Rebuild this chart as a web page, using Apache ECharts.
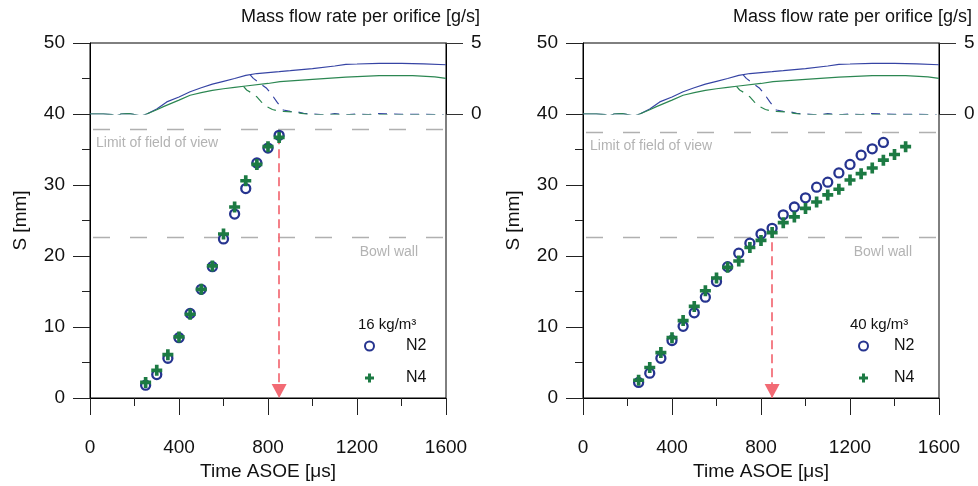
<!DOCTYPE html>
<html>
<head>
<meta charset="utf-8">
<script src="https://cdn.jsdelivr.net/npm/echarts@6/dist/echarts.min.js"></script>
<style>
  html, body { margin: 0; padding: 0; background: #fff; }
  #chart { width: 978px; height: 486px; }
</style>
</head>
<body>
<div id="chart"></div>
<script>
// Spray tip penetration S [mm] against time after start of energizing [µs]
const timeTicks = [0, 400, 800, 1200, 1600];

// 16 kg/m³ ambient density
const time16 = [250, 300, 350, 400, 450, 500, 550, 600, 650, 700, 750, 800, 850];
const n2At16 = [1.8, 3.3, 5.6, 8.5, 11.9, 15.3, 18.5, 22.4, 25.9, 29.5, 33.1, 35.2, 37.0];
const n4At16 = [2.2, 3.9, 6.1, 8.6, 11.8, 15.3, 18.6, 23.1, 26.9, 30.6, 32.9, 35.4, 36.7];

// 40 kg/m³ ambient density
const time40N2 = [250, 300, 350, 400, 450, 500, 550, 600, 650, 700, 750, 800, 850, 900, 950, 1000, 1050, 1100, 1150, 1200, 1250, 1300, 1350];
const n2At40 = [2.2, 3.5, 5.6, 8.1, 10.1, 12.0, 14.2, 16.4, 18.5, 20.4, 21.8, 23.1, 23.9, 25.8, 26.9, 28.2, 29.7, 30.4, 31.7, 32.9, 34.2, 35.1, 36.0];
const time40N4 = [250, 300, 350, 400, 450, 500, 550, 600, 650, 700, 750, 800, 850, 900, 950, 1000, 1050, 1100, 1150, 1200, 1250, 1300, 1350, 1400, 1450];
const n4At40 = [2.5, 4.3, 6.4, 8.5, 10.9, 12.9, 15.1, 16.9, 18.4, 19.3, 21.2, 22.2, 23.3, 24.7, 25.5, 26.7, 27.6, 28.6, 29.4, 30.7, 31.6, 32.4, 33.5, 34.3, 35.4];

// Reference levels [mm] and end of injection [µs]
const fieldLimit16 = 37.9;
const fieldLimit40 = 37.5;
const bowlWall = 22.6;
const injectionEnd = 850;

// Mass flow rate per orifice [g/s]: [time µs, rate]
const flowN2 = [[0,0],[60,0],[100,-0.05],[115,-0.16],[140,0],[175,0.03],[200,-0.04],[230,-0.15],[255,0],[300,0.35],[345,0.85],[400,1.2],[450,1.57],[500,1.85],[550,2.1],[600,2.3],[650,2.5],[700,2.72],[750,2.85],[800,2.92],[850,2.98],[900,3.05],[1000,3.2],[1100,3.38],[1150,3.5],[1200,3.52],[1300,3.57],[1400,3.57],[1500,3.53],[1600,3.47]];
const flowN4 = [[0,0],[60,0],[100,-0.05],[115,-0.16],[140,0],[175,0.03],[200,-0.04],[230,-0.15],[255,0],[300,0.3],[330,0.52],[400,0.98],[450,1.32],[500,1.5],[550,1.66],[600,1.78],[650,1.88],[700,1.97],[800,2.15],[854,2.28],[1000,2.44],[1150,2.6],[1300,2.7],[1450,2.7],[1550,2.62],[1600,2.51]];
const flowN2Shutdown = [[720,2.75],[734,2.51],[760,2.2],[794,1.81],[820,1.3],[839,0.87],[869,0.28],[900,0.18],[929,0.16],[960,0.05],[1004,0],[1050,-0.07],[1100,0.02],[1150,-0.06],[1200,0],[1250,-0.05],[1300,0.03],[1350,0],[1400,-0.03],[1500,-0.02],[1590,-0.07]];
const flowN4Shutdown = [[690,1.95],[704,1.69],[730,1.45],[749,1.22],[770,0.85],[794,0.52],[820,0.32],[839,0.24],[870,0.18],[914,0.14],[950,0.05],[989,-0.05],[1050,-0.05],[1100,-0.03],[1200,-0.05],[1300,-0.04],[1400,-0.06],[1500,-0.05],[1590,-0.07]];

const FONT = "'Liberation Sans', Arial, sans-serif";
const BLUE = '#26348f';
const GREEN = '#1c7a43';
const BLUE_LINE = '#3644a4';
const GREEN_LINE = '#2c8752';
const PLUS = 'path://M4,0H8V4H12V8H8V12H4V8H0V4H4Z';

const zip = (xs, ys) => xs.map((x, i) => [x, ys[i]]);
const plain = v => String(v);

const panels = [
  { left: 90, density: '16 kg/m³', tN2: time16, sN2: n2At16, tN4: time16, sN4: n4At16, limit: fieldLimit16,
    limitDist: [6, 7], bowlDist: [28, 8], legendLeft: 364, legendPad: 27, densityLeft: 358 },
  { left: 583, density: '40 kg/m³', tN2: time40N2, sN2: n2At40, tN4: time40N4, sN4: n4At40, limit: fieldLimit40,
    limitDist: [7, 7], bowlDist: [27, 8], legendLeft: 858, legendPad: 21, densityLeft: 850 }
];

const grids = [], xAxes = [], yAxes = [], series = [], titles = [], legends = [];
const axisText = { color: '#111', fontSize: 19, fontFamily: FONT, formatter: plain };

panels.forEach((p, k) => {
  const main = grids.length;
  grids.push({ left: p.left, top: 43, width: 356, height: 355, show: true, borderColor: '#000', borderWidth: 1, backgroundColor: 'transparent' });
  const flow = grids.length;
  grids.push({ left: p.left, top: 43, width: 356, height: 71 });

  xAxes.push({
    gridIndex: main, type: 'value', min: timeTicks[0], max: timeTicks[timeTicks.length - 1], interval: 400,
    name: 'Time ASOE [μs]', nameLocation: 'middle', nameGap: 62,
    nameTextStyle: { color: '#111', fontSize: 19, fontFamily: FONT },
    axisLine: { show: true, onZero: false, lineStyle: { color: '#000', width: 1 } },
    axisTick: { show: true, length: 17, lineStyle: { color: '#222' } },
    minorTick: { show: true, splitNumber: 2, length: 8, lineStyle: { color: '#222' } },
    axisLabel: Object.assign({ margin: 40 }, axisText),
    splitLine: { show: false }
  });
  yAxes.push({
    gridIndex: main, type: 'value', min: 0, max: 50, interval: 10,
    name: 'S [mm]', nameLocation: 'middle', nameGap: 60,
    nameTextStyle: { color: '#111', fontSize: 19, fontFamily: FONT },
    axisLine: { show: true, onZero: false, lineStyle: { color: '#000', width: 1 } },
    axisTick: { show: true, length: 17, lineStyle: { color: '#222' } },
    minorTick: { show: true, splitNumber: 2, length: 8, lineStyle: { color: '#222' } },
    axisLabel: Object.assign({ margin: 25 }, axisText),
    splitLine: { show: false }
  });
  xAxes.push({ gridIndex: flow, type: 'value', min: 0, max: 1600, show: false });
  yAxes.push({
    gridIndex: flow, type: 'value', position: 'right', min: 0, max: 5, interval: 5,
    axisLine: { show: true, onZero: false, lineStyle: { color: '#000', width: 1 } },
    axisTick: { show: true, length: 17, lineStyle: { color: '#333' } },
    axisLabel: Object.assign({ margin: 25 }, axisText),
    splitLine: { show: false }
  });

  const mxi = xAxes.length - 2, myi = yAxes.length - 2, fxi = xAxes.length - 1, fyi = yAxes.length - 1;

  const flowLine = (data, color, dashed) => ({
    type: 'line', xAxisIndex: fxi, yAxisIndex: fyi, data, symbol: 'none', silent: true,
    lineStyle: { color, width: 1.2, type: dashed ? [9, 7] : 'solid' }, z: 2
  });
  series.push(flowLine(flowN2, BLUE_LINE, false));
  series.push(flowLine(flowN4, GREEN_LINE, false));
  series.push(flowLine(flowN2Shutdown, BLUE_LINE, true));
  series.push(flowLine(flowN4Shutdown, GREEN_LINE, true));

  // Reference lines: field of view, bowl wall, end of injection
  const endIdx = p.tN2.indexOf(injectionEnd);
  series.push({
    type: 'line', xAxisIndex: mxi, yAxisIndex: myi, data: [], silent: true, z: 3,
    markLine: {
      silent: true, animation: false, symbol: 'none',
      data: [
        { yAxis: p.limit, lineStyle: { color: '#b0b0b0', width: 1.3, type: [17, 20], dashOffset: -3 },
          label: { show: true, position: 'insideStartBottom', formatter: 'Limit of field of view', distance: p.limitDist,
                   color: '#b3b3b3', fontSize: 14, fontFamily: FONT } },
        { yAxis: bowlWall, lineStyle: { color: '#b0b0b0', width: 1.3, type: [17, 20], dashOffset: -3 },
          label: { show: true, position: 'insideEndBottom', formatter: 'Bowl wall', distance: p.bowlDist,
                   color: '#b3b3b3', fontSize: 14, fontFamily: FONT } },
        [
          { coord: [injectionEnd, p.sN2[endIdx]], symbol: 'none' },
          { coord: [injectionEnd, 0], symbol: 'triangle', symbolSize: [15, 14], symbolOffset: [0, 7],
            itemStyle: { color: '#e8222c' } }
        ]
      ],
      lineStyle: { color: '#f26a74', width: 1.7, type: [9, 5] },
      label: { show: false }
    }
  });

  series.push({
    name: 'N2', type: 'scatter', xAxisIndex: mxi, yAxisIndex: myi, data: zip(p.tN2, p.sN2),
    symbol: 'circle', symbolSize: 9,
    itemStyle: { color: '#fff', borderColor: BLUE, borderWidth: 2.3, opacity: 1 }, z: 5
  });
  series.push({
    name: 'N4', type: 'scatter', xAxisIndex: mxi, yAxisIndex: myi, data: zip(p.tN4, p.sN4),
    symbol: PLUS, symbolSize: 11,
    itemStyle: { color: GREEN, opacity: 1 }, z: 6
  });

  titles.push({
    text: 'Mass flow rate per orifice [g/s]', right: k === 0 ? 498 : 6, top: 8, padding: 0,
    textStyle: { color: '#111', fontSize: 18, fontWeight: 'normal', fontFamily: FONT }
  });
  titles.push({
    text: p.density, left: p.densityLeft, top: 317, padding: 0,
    textStyle: { color: '#111', fontSize: 15, fontWeight: 'normal', fontFamily: FONT }
  });
  legends.push({
    orient: 'vertical', left: p.legendLeft, top: 338, padding: 0,
    itemWidth: 9, itemHeight: 9, itemGap: 16, selectedMode: false,
    data: [
      { name: 'N2', icon: 'circle', itemStyle: { color: '#fff', borderColor: BLUE, borderWidth: 2, opacity: 1 } },
      { name: 'N4', icon: PLUS, itemStyle: { color: GREEN, opacity: 1 } }
    ],
    textStyle: { color: '#111', fontSize: 16, fontFamily: FONT, padding: [0, 0, 0, p.legendPad] }
  });
});

const chart = echarts.init(document.getElementById('chart'), null, { renderer: 'canvas' });
chart.setOption({
  animation: false,
  backgroundColor: '#fff',
  textStyle: { fontFamily: FONT },
  title: titles,
  legend: legends,
  grid: grids,
  xAxis: xAxes,
  yAxis: yAxes,
  series
});
</script>
</body>
</html>
